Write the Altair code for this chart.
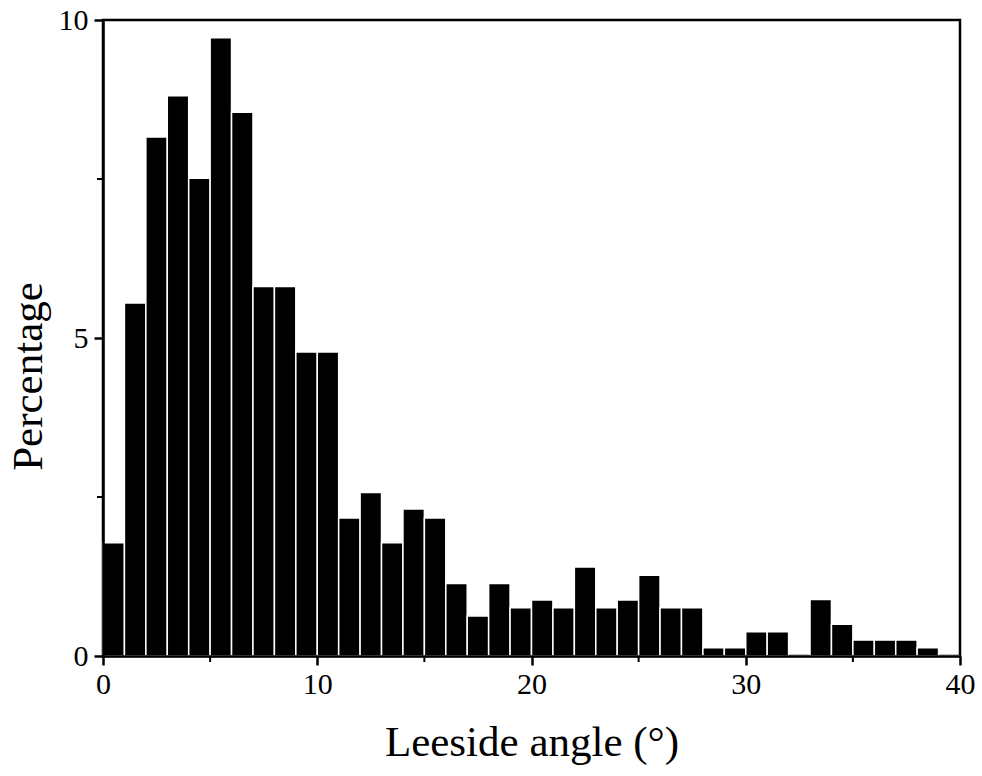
import altair as alt
import pandas as pd

# Histogram bins (degrees) and percentage per bin
bin_start = list(range(40))
bin_end = [b + 1 for b in bin_start]
percent = [1.78, 5.55, 8.16, 8.81, 7.51, 9.72, 8.55, 5.81, 5.81, 4.78,
           4.78, 2.17, 2.57, 1.78, 2.31, 2.17, 1.14, 0.63, 1.14, 0.76,
           0.88, 0.76, 1.40, 0.76, 0.88, 1.27, 0.76, 0.76, 0.13, 0.13,
           0.38, 0.38, 0.0, 0.89, 0.50, 0.25, 0.25, 0.25, 0.13, 0.0]

x_major = [0, 10, 20, 30, 40]
x_minor = [5, 15, 25, 35]
y_major = [0, 5, 10]
y_minor = [2.5, 7.5]

W, H = 857, 636
FONT = "Liberation Serif"

df = pd.DataFrame({"start": bin_start, "end": bin_end, "pct": percent})

x_scale = alt.Scale(domain=[0, 40], nice=False, zero=False)
y_scale = alt.Scale(domain=[0, 10], nice=False)

x_axis = alt.Axis(values=x_major, title="Leeside angle (°)",
                  titleFontSize=43, titleFont=FONT, titleFontWeight="normal",
                  titleColor="black", titlePadding=22,
                  labelFont=FONT, labelFontSize=30, labelColor="black",
                  labelPadding=4, tickSize=9, tickWidth=2.5, tickColor="black",
                  domainColor="black", domainWidth=2.5, grid=False,
                  labelFlush=False, zindex=1)
y_axis = alt.Axis(values=y_major, title="Percentage",
                  titleFontSize=43, titleFont=FONT, titleFontWeight="normal",
                  titleColor="black", titlePadding=8, titleY=356,
                  labelFont=FONT, labelFontSize=30, labelColor="black",
                  labelPadding=6, tickSize=9, tickWidth=2.5, tickColor="black",
                  domainColor="black", domainWidth=2.5, grid=False,
                  labelFlush=False, zindex=1)

bars = alt.Chart(df).mark_rect(
    color="black", stroke="white", strokeWidth=1.5
).encode(
    x=alt.X("start:Q", scale=x_scale, axis=x_axis),
    x2="end:Q",
    y=alt.Y("pct:Q", scale=y_scale, axis=y_axis),
    y2=alt.datum(0),
)

xminor = alt.Chart(pd.DataFrame({"v": x_minor})).mark_rule(
    color="black", strokeWidth=2
).encode(
    x=alt.X("v:Q", scale=x_scale, axis=x_axis),
    y=alt.value(H),
    y2=alt.value(H + 6),
)

yminor = alt.Chart(pd.DataFrame({"v": y_minor})).mark_rule(
    color="black", strokeWidth=2
).encode(
    y=alt.Y("v:Q", scale=y_scale, axis=y_axis),
    x=alt.value(0),
    x2=alt.value(-6),
)

chart = alt.layer(bars, xminor, yminor).properties(
    width=W, height=H,
    autosize=alt.AutoSizeParams(type="none"),
    padding={"left": 103, "top": 20, "right": 22, "bottom": 120},
    background="white",
).configure_view(stroke="black", strokeWidth=2.5)

chart.save("out.html", embed_options={"renderer": "svg", "actions": False})
